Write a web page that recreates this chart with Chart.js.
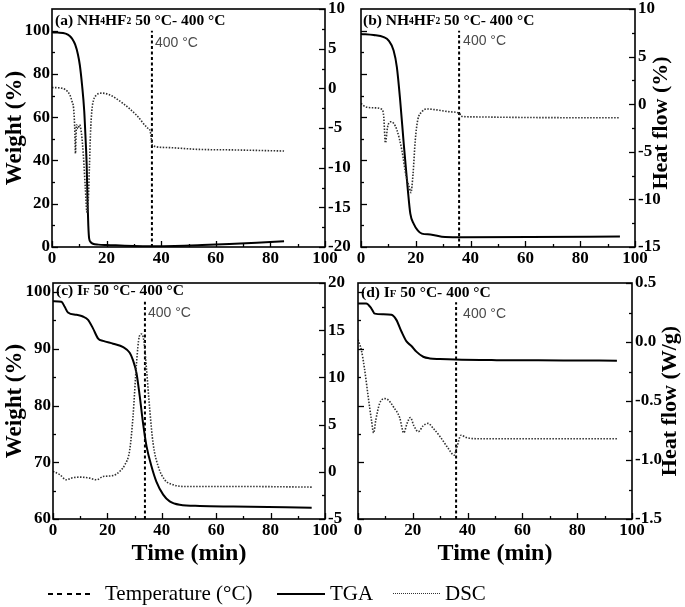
<!DOCTYPE html>
<html><head><meta charset="utf-8">
<script src="https://cdn.jsdelivr.net/npm/chart.js@4.4.1/dist/chart.umd.min.js"></script>
<style>
html,body{margin:0;padding:0;background:#fff;}
body{width:685px;height:607px;position:relative;overflow:hidden;font-family:'Liberation Serif',serif;}
canvas{position:absolute;}
.lg{position:absolute;font-size:21px;color:#000;line-height:24px;top:581px;white-space:nowrap;font-family:'Liberation Serif',serif;}
.sw{position:absolute;}
</style></head><body>
<canvas id="ca" width="355" height="272" style="left:0px;top:0px"></canvas>
<canvas id="cb" width="329" height="272" style="left:345px;top:0px"></canvas>
<canvas id="cc" width="355" height="298" style="left:0px;top:270px"></canvas>
<canvas id="cd" width="340" height="298" style="left:345px;top:270px"></canvas>
<div class="sw" style="left:48px;top:593px;width:42px;height:1.5px;background:repeating-linear-gradient(to right,#000 0 5px,transparent 5px 9.25px)"></div>
<div class="lg" style="left:105px">Temperature (°C)</div>
<div class="sw" style="left:277px;top:593px;width:48px;height:2px;background:#000"></div>
<div class="lg" style="left:330px">TGA</div>
<div class="sw" style="left:393px;top:593px;width:47px;height:1px;background:repeating-linear-gradient(to right,#333 0 1px,transparent 1px 2px)"></div>
<div class="lg" style="left:445px">DSC</div>
<script>
// ---------- tick labels ----------
const xTicks = [0, 20, 40, 60, 80, 100];
const wTicksAB = [0, 20, 40, 60, 80, 100];
const hTicksA = [-20, -15, -10, -5, 0, 5, 10];
const hTicksB = [-15, -10, -5, 0, 5, 10];
const wTicksCD = [60, 70, 80, 90, 100];
const hTicksC = [-5, 0, 5, 10, 15, 20];
const hTicksD = [-1.5, -1.0, -0.5, 0.0, 0.5];

// ---------- panel (a) NH4HF2 ----------
const aTgaT = [0, 2, 5, 6.5, 7.5, 8.5, 9.5, 10.2, 11, 11.8, 12.3, 12.7, 13, 13.3, 13.6, 14.2, 15, 17, 20, 25, 30, 36, 45, 55, 65, 75, 85];
const aTga  = [99.2, 99.1, 98.6, 97.5, 96, 93.5, 89, 84, 75, 63, 50, 38, 22, 10, 4, 2.2, 1.5, 1.1, 0.9, 0.7, 0.5, 0.4, 0.5, 0.9, 1.4, 2.0, 2.7];
const aDscT = [0, 3, 5, 6.5, 7.3, 7.9, 8.3, 8.6, 8.8, 9.0, 9.5, 10.1, 10.8, 11.5, 12.2, 12.8, 13.3, 13.7, 14.1, 14.6, 15.2, 16.3, 18, 21, 26, 31, 35, 36, 36.3, 36.6, 37, 42, 54, 66, 85];
const aDsc  = [0.1, 0.05, -0.2, -0.8, -1.6, -2.5, -4.8, -8.2, -6, -4.6, -5.1, -4.6, -5.7, -8.5, -12.5, -15.6, -14, -10, -5.7, -2.8, -1.5, -0.86, -0.6, -0.8, -1.9, -3.4, -5, -5.4, -6.2, -7, -7.25, -7.46, -7.7, -7.76, -7.9];
const aTempX = [36.6, 36.6];
const aTempY = [0, 100];

// ---------- panel (b) NH4HF2 ----------
const bTgaT = [0, 4.6, 8.3, 10.1, 11.9, 13.1, 14.3, 15.6, 17, 18, 19.2, 20.7, 22.2, 25.3, 30.7, 37.4, 61.7, 94.5];
const bTga  = [98.5, 98, 97, 95.4, 90.8, 83, 67.7, 47.7, 27.7, 15.4, 10.8, 7.7, 6.2, 5.8, 4.6, 4.5, 4.6, 4.9];
const bDscT = [0, 1.6, 4.6, 7.7, 8.3, 8.9, 9.7, 10.7, 11.9, 13.1, 14.9, 16.5, 17.6, 18.2, 19, 19.8, 20.7, 22.2, 24.1, 27.7, 32.6, 36, 36.5, 39.9, 61.7, 94.5];
const bDsc  = [0.08, -0.27, -0.38, -0.55, -1.3, -4.06, -2.4, -1.85, -2.0, -2.7, -4.8, -7.6, -8.7, -9.3, -7.3, -3.8, -1.68, -0.8, -0.5, -0.6, -0.8, -0.97, -1.26, -1.33, -1.4, -1.43];
const bTempX = [35.8, 35.8];
const bTempY = [0, 100];

// ---------- panel (c) IF ----------
const cTgaT = [0, 3.1, 4.3, 5.5, 8.6, 11, 12.9, 14.7, 16.6, 18.4, 22.1, 25.8, 28.2, 29.4, 30.7, 31.9, 33.1, 34.4, 36.2, 38, 40.5, 42.9, 46.6, 54, 66.3, 95.1];
const cTga  = [98.4, 98.3, 97.4, 96.4, 96, 95.7, 95.1, 93.6, 91.8, 91.4, 90.9, 90.3, 89.3, 88, 85.7, 81.6, 76.9, 72.8, 69.3, 66.6, 64.3, 63.1, 62.5, 62.3, 62.2, 62];
const cDscT = [0, 2.5, 4.9, 6.7, 9.8, 13.5, 16, 18.4, 22.1, 24.5, 26.4, 28.2, 29.4, 30.7, 31.7, 32.5, 33.4, 34.4, 35.6, 36.8, 38.7, 41.1, 44.2, 47.9, 66.3, 95.1];
const cDsc  = [0.04, -0.3, -0.85, -0.67, -0.56, -0.67, -0.85, -0.5, -0.4, 0.04, 0.74, 2.3, 5.8, 11.5, 14.3, 14.6, 13.9, 10.8, 6.5, 3.0, 0.56, -0.85, -1.37, -1.55, -1.55, -1.62];
const cTempX = [33.8, 33.8];
const cTempY = [60, 98.3];

// ---------- panel (d) IF ----------
const dTgaT = [0, 3, 4.9, 6.1, 9.1, 12.2, 14, 15.9, 17.7, 19.5, 21.3, 23.8, 26.2, 29.9, 35.4, 50.6, 75, 94.5];
const dTga  = [98, 98, 97.1, 96.2, 96.1, 96, 95.1, 93, 91.3, 90.5, 89.5, 88.6, 88.3, 88.2, 88.1, 88, 87.95, 87.9];
const dDscT = [0, 1.2, 2.4, 3.7, 4.9, 5.7, 6.5, 7.9, 9.8, 11, 12.8, 15.2, 16.7, 17.9, 19.1, 20.4, 22, 23.8, 25.6, 27.4, 29.9, 32.9, 35.1, 36, 37.6, 39.6, 44.5, 62.8, 94.5];
const dDsc  = [0.02, -0.065, -0.23, -0.46, -0.66, -0.77, -0.66, -0.52, -0.48, -0.49, -0.545, -0.64, -0.77, -0.69, -0.64, -0.71, -0.76, -0.71, -0.69, -0.73, -0.80, -0.9, -0.96, -0.90, -0.79, -0.81, -0.82, -0.82, -0.82];
const dTempX = [35.8, 35.8];
const dTempY = [60, 98.2];

function pts(xs, ys) { return xs.map((x, i) => ({x: x, y: ys[i]})); }
function minors(vals) { const m = []; for (let i = 0; i < vals.length - 1; i++) m.push((vals[i] + vals[i + 1]) / 2); return m; }

const SERIF = "'Liberation Serif', 'Times New Roman', serif";
const tickFont = {family: SERIF, weight: 'bold', size: 17, lineHeight: 1};

const deco = {
  id: 'deco',
  afterDraw(chart) {
    const o = chart.options.plugins.deco;
    const {ctx, chartArea: a, scales} = chart;
    ctx.save();
    // inward ticks
    ctx.strokeStyle = '#000';
    ctx.lineWidth = 1.3;
    const drawT = (scale, vals, len, side) => {
      vals.forEach(v => {
        const p = Math.round(scale.getPixelForValue(v)) + 0.5;
        ctx.beginPath();
        if (side === 'b') { ctx.moveTo(p, a.bottom); ctx.lineTo(p, a.bottom - len); }
        if (side === 'l') { ctx.moveTo(a.left, p); ctx.lineTo(a.left + len, p); }
        if (side === 'r') { ctx.moveTo(a.right, p); ctx.lineTo(a.right - len, p); }
        ctx.stroke();
      });
    };
    drawT(scales.x, xTicks, 6, 'b'); drawT(scales.x, minors(xTicks), 3, 'b');
    drawT(scales.yL, o.lTicks, 6, 'l'); drawT(scales.yL, minors(o.lTicks), 3, 'l');
    drawT(scales.yR, o.rTicks, 6, 'r'); drawT(scales.yR, minors(o.rTicks), 3, 'r');
    // frame
    ctx.lineWidth = 1.6;
    ctx.strokeRect(a.left, a.top, a.right - a.left, a.bottom - a.top);
    // panel title
    ctx.fillStyle = '#000';
    ctx.textBaseline = 'middle';
    ctx.textAlign = 'left';
    let x = a.left + o.titleDx;
    const y = a.top + o.titleDy;
    o.title.forEach(seg => {
      const sz = o.titleSize * (seg.s || 1);
      ctx.font = 'bold ' + sz + 'px ' + SERIF;
      ctx.fillText(seg.t, x, y + (seg.s ? 1 : 0));
      x += ctx.measureText(seg.t).width;
    });
    // 400 °C label
    ctx.font = '14px "Liberation Sans", Arial, sans-serif';
    ctx.fillStyle = '#4a4a4a';
    ctx.fillText('400 °C', scales.x.getPixelForValue(o.tempX) + o.tempDx, a.top + o.tempDy);
    // right axis title, rotated bottom-to-top
    if (o.rTitle) {
      ctx.translate(o.rTitleX, o.rTitleY);
      ctx.rotate(-Math.PI / 2);
      ctx.textAlign = 'center';
      ctx.fillStyle = '#000';
      ctx.font = 'bold 22px ' + SERIF;
      ctx.fillText(o.rTitle, 0, 0);
    }
    ctx.restore();
  }
};

function build(cfg) {
  const B = cfg.box, A = cfg.area;
  const padTop = A.t - B.top, leftW = A.l - B.left, rightW = B.left + B.w - A.r, botH = B.top + B.h - A.b;
  const fmt = cfg.fmt || (v => String(v));
  new Chart(document.getElementById(cfg.id), {
    type: 'line',
    data: {datasets: [
      {label: 'DSC', data: pts(cfg.dscT, cfg.dsc), yAxisID: 'yR', borderColor: '#303030', borderWidth: 1.6, borderDash: [1.5, 1.5], pointRadius: 0, cubicInterpolationMode: 'monotone', fill: false},
      {label: 'TGA', data: pts(cfg.tgaT, cfg.tga), yAxisID: 'yL', borderColor: '#000', borderWidth: 2, pointRadius: 0, cubicInterpolationMode: 'monotone', fill: false},
      {label: 'Temperature (°C)', data: pts(cfg.tempX, cfg.tempY), yAxisID: 'yL', borderColor: '#000', borderWidth: 2, borderDash: [3, 2.5], pointRadius: 0, fill: false}
    ]},
    options: {
      responsive: false, animation: false, devicePixelRatio: 1,
      layout: {padding: {top: padTop, left: 0, right: 0, bottom: 0}},
      plugins: {legend: {display: false}, tooltip: {enabled: false}, deco: cfg.deco},
      scales: {
        x: {type: 'linear', position: 'bottom', min: 0, max: 100,
          afterBuildTicks: s => { s.ticks = xTicks.map(v => ({value: v})); },
          afterFit: s => { s.height = botH; s.paddingLeft = 0; s.paddingRight = 0; },
          grid: {display: false, drawTicks: false}, border: {display: false},
          ticks: {font: tickFont, color: '#000', padding: 3, maxRotation: 0, autoSkip: false},
          title: cfg.xTitle ? {display: true, text: 'Time (min)', color: '#000', font: {family: SERIF, weight: 'bold', size: 24}, padding: {top: 0, bottom: 0}} : {display: false}
        },
        yL: {type: 'linear', position: 'left', min: cfg.lMin, max: cfg.lMax,
          afterBuildTicks: s => { s.ticks = cfg.deco.lTicks.map(v => ({value: v})); },
          afterFit: s => { s.width = leftW; s.paddingTop = 0; s.paddingBottom = 0; },
          grid: {display: false, drawTicks: false}, border: {display: false},
          ticks: {display: cfg.lLabels, font: tickFont, color: '#000', padding: 2},
          title: cfg.lTitle ? {display: true, text: 'Weight (%)', color: '#000', font: {family: SERIF, weight: 'bold', size: 23}, padding: {top: 1, bottom: 0}} : {display: false}
        },
        yR: {type: 'linear', position: 'right', min: cfg.rMin, max: cfg.rMax,
          afterBuildTicks: s => { s.ticks = cfg.deco.rTicks.map(v => ({value: v})); },
          afterFit: s => { s.width = rightW; s.paddingTop = 0; s.paddingBottom = 0; },
          grid: {display: false, drawTicks: false}, border: {display: false},
          ticks: {font: tickFont, color: '#000', padding: 3, callback: v => fmt(v)}
        }
      }
    },
    plugins: [deco]
  });
}

build({id: 'ca', box: {left: 0, top: 0, w: 355, h: 272}, area: {l: 52, r: 325, t: 9, b: 247},
  tgaT: aTgaT, tga: aTga, dscT: aDscT, dsc: aDsc, tempX: aTempX, tempY: aTempY,
  lMin: 0, lMax: 110, rMin: -20, rMax: 10, lLabels: true, lTitle: true, xTitle: false,
  deco: {lTicks: wTicksAB, rTicks: hTicksA, titleSize: 15.5, titleDx: 3, titleDy: 11.5,
    title: [{t: '(a) NH'}, {t: '4', s: 0.62}, {t: 'HF'}, {t: '2', s: 0.62}, {t: ' 50 °C- 400 °C'}],
    tempX: aTempX[0], tempDx: 3, tempDy: 34}});

build({id: 'cb', box: {left: 345, top: 0, w: 329, h: 272}, area: {l: 361, r: 635, t: 9, b: 247},
  tgaT: bTgaT, tga: bTga, dscT: bDscT, dsc: bDsc, tempX: bTempX, tempY: bTempY,
  lMin: 0, lMax: 110, rMin: -15, rMax: 10, lLabels: false, lTitle: false, xTitle: false,
  deco: {lTicks: wTicksAB, rTicks: hTicksB, titleSize: 15.5, titleDx: 2, titleDy: 12,
    title: [{t: '(b) NH'}, {t: '4', s: 0.62}, {t: 'HF'}, {t: '2', s: 0.62}, {t: ' 50 °C- 400 °C'}],
    tempX: bTempX[0], tempDx: 4, tempDy: 32,
    rTitle: 'Heat flow (%)', rTitleX: 661 - 345, rTitleY: 123}});

build({id: 'cc', box: {left: 0, top: 270, w: 355, h: 298}, area: {l: 53, r: 325, t: 283, b: 519},
  tgaT: cTgaT, tga: cTga, dscT: cDscT, dsc: cDsc, tempX: cTempX, tempY: cTempY,
  lMin: 60, lMax: 101.6, rMin: -5, rMax: 20, lLabels: true, lTitle: true, xTitle: true,
  deco: {lTicks: wTicksCD, rTicks: hTicksC, titleSize: 15.5, titleDx: 3, titleDy: 8,
    title: [{t: '(c) I'}, {t: 'F', s: 0.7}, {t: ' 50 °C- 400 °C'}],
    tempX: cTempX[0], tempDx: 3, tempDy: 30}});

build({id: 'cd', box: {left: 345, top: 270, w: 340, h: 298}, area: {l: 358, r: 632, t: 283, b: 519},
  tgaT: dTgaT, tga: dTga, dscT: dDscT, dsc: dDsc, tempX: dTempX, tempY: dTempY,
  lMin: 60, lMax: 101.6, rMin: -1.5, rMax: 0.5, lLabels: false, lTitle: false, xTitle: true,
  fmt: v => v.toFixed(1),
  deco: {lTicks: wTicksCD, rTicks: hTicksD, titleSize: 15.5, titleDx: 3, titleDy: 10,
    title: [{t: '(d) I'}, {t: 'F', s: 0.7}, {t: ' 50 °C- 400 °C'}],
    tempX: dTempX[0], tempDx: 7, tempDy: 31,
    rTitle: 'Heat flow (W/g)', rTitleX: 670 - 345, rTitleY: 401 - 270}});
</script>
</body></html>
